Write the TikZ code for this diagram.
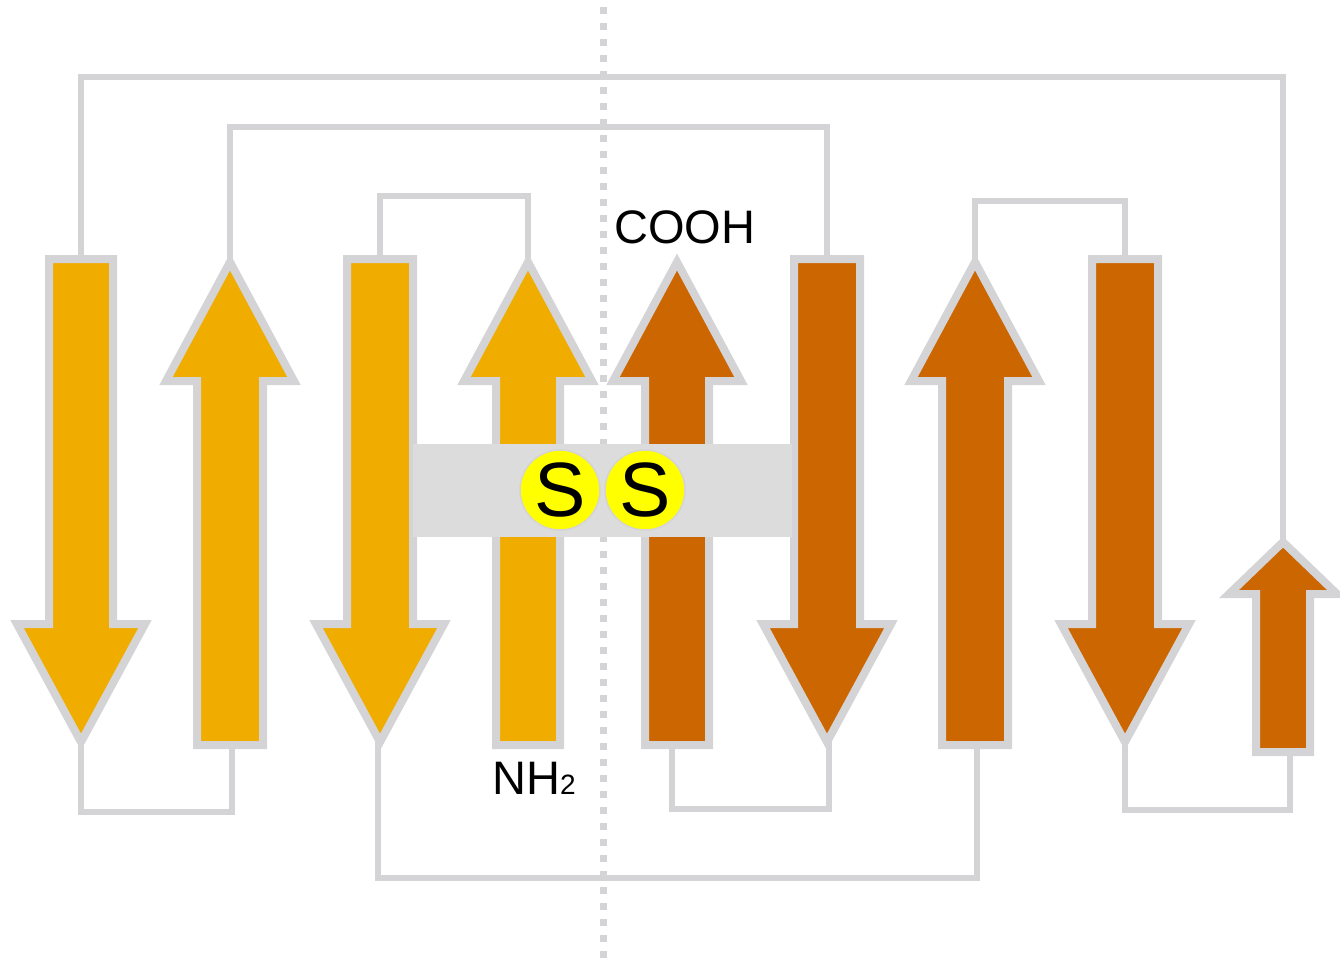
\documentclass[tikz,border=0pt]{standalone}
\usepackage{fontspec}
\setmainfont{Liberation Sans}
\definecolor{lineg}{HTML}{D4D4D6}
\definecolor{bandg}{HTML}{DCDCDC}
\definecolor{ylw}{HTML}{F0AD00}
\definecolor{org}{HTML}{CC6600}
\definecolor{sy}{HTML}{FFFF00}
\tikzset{
  strand/.style={draw=lineg, line width=8pt, line join=miter, miter limit=10},
  link/.style={draw=lineg, line width=6pt, line cap=rect, line join=miter},
  dotline/.style={draw=lineg, line width=7pt, dash pattern=on 7pt off 9pt, dash phase=-7pt},
  sball/.style={circle, fill=sy, draw=lineg, line width=1.5pt, minimum size=80pt, inner sep=0pt, font=\fontsize{77}{80}\selectfont},
  lbl/.style={inner sep=0pt, anchor=base west, font=\fontsize{47}{50}\selectfont}
}
% name, colour, cx, tip y, head base y, tail y, half shaft, half head
\newcommand\strandUp[8]{%
  \draw[strand, fill=#2] ({#3-#7},#6) -- ({#3-#7},#5) -- ({#3-#8},#5) -- (#3,#4)
    -- ({#3+#8},#5) -- ({#3+#7},#5) -- ({#3+#7},#6) -- cycle;
  \coordinate (#1-tip) at (#3,#4);
  \coordinate (#1-tail) at (#3,#6);
}
\begin{document}
\begin{tikzpicture}[x=1pt,y=-1pt]
\useasboundingbox (0,0) rectangle (1340,959);
\coordinate (top1) at (0,77);
\coordinate (top2) at (0,127);
\coordinate (top3) at (0,196);
\coordinate (top4) at (0,201);
\coordinate (bot1) at (0,812);
\coordinate (bot2) at (0,878);
\coordinate (bot3) at (0,809);
\coordinate (bot4) at (0,810);
% dotted axis
\draw[dotline] (603,0) -- (603,959);
% strands (coordinates first, drawn after connectors)
\path (0,0) coordinate (dummy);
\begin{scope}[overlay]
\end{scope}
% define strand coordinates by drawing later; connectors need names, so declare them now
\coordinate (s1-tail) at (81,259);   \coordinate (s1-tip) at (81,742);
\coordinate (s2-tip) at (230,262);   \coordinate (s2-tail) at (230,745);
\coordinate (s3-tail) at (380,259);  \coordinate (s3-tip) at (380,742);
\coordinate (s4-tip) at (528,262);   \coordinate (s4-tail) at (528,745);
\coordinate (s5-tip) at (677,262);   \coordinate (s5-tail) at (677,745);
\coordinate (s6-tail) at (827,259);  \coordinate (s6-tip) at (827,742);
\coordinate (s7-tip) at (975,262);   \coordinate (s7-tail) at (975,745);
\coordinate (s8-tail) at (1125,259); \coordinate (s8-tip) at (1125,742);
\coordinate (s9-tip) at (1283,542);  \coordinate (s9-tail) at (1283,752);
% connectors
\draw[link] (s1-tail) -- (s1-tail |- top1) -- (s9-tip |- top1) -- (s9-tip);
\draw[link] (s2-tip) -- (s2-tip |- top2) -- (s6-tail |- top2) -- (s6-tail);
\draw[link] (s3-tail) -- (s3-tail |- top3) -- (s4-tip |- top3) -- (s4-tip);
\draw[link] (s7-tip) -- (s7-tip |- top4) -- (s8-tail |- top4) -- (s8-tail);
\draw[link] (s1-tip) -- (s1-tip |- bot1) -- ([xshift=2pt]s2-tail |- bot1) -- ([xshift=2pt]s2-tail);
\draw[link] ([xshift=-2pt]s3-tip) -- ([xshift=-2pt]s3-tip |- bot2) -- ([xshift=2pt]s7-tail |- bot2) -- ([xshift=2pt]s7-tail);
\draw[link] ([xshift=-5pt]s5-tail) -- ([xshift=-5pt]s5-tail |- bot3) -- ([xshift=2pt]s6-tip |- bot3) -- ([xshift=2pt]s6-tip);
\draw[link] (s8-tip) -- (s8-tip |- bot4) -- ([xshift=7pt]s9-tail |- bot4) -- ([xshift=7pt]s9-tail);
% strands
\strandUp{s1}{ylw}{81}{742}{624}{259}{32}{64}
\strandUp{s2}{ylw}{230}{262}{381}{745}{33}{64}
\strandUp{s3}{ylw}{380}{742}{624}{259}{33}{64}
\strandUp{s4}{ylw}{528}{262}{381}{745}{32}{64}
\strandUp{s5}{org}{677}{262}{381}{745}{32}{64}
\strandUp{s6}{org}{827}{742}{624}{259}{33}{64}
\strandUp{s7}{org}{975}{262}{381}{745}{33}{64}
\strandUp{s8}{org}{1125}{742}{624}{259}{33}{64}
\strandUp{s9}{org}{1283}{542}{594}{752}{27}{54}
% disulfide band
\fill[bandg] (413,444) rectangle (792,537);
\node[sball] (sa) at (560,490) {S};
\node[sball] (sb) at (645,490) {S};
% labels
\node[lbl] (cooh) at (614,243) {COOH};
\node[lbl] (nh2) at (492,794) {NH{\fontsize{28}{30}\selectfont 2}};
\end{tikzpicture}
\end{document}
